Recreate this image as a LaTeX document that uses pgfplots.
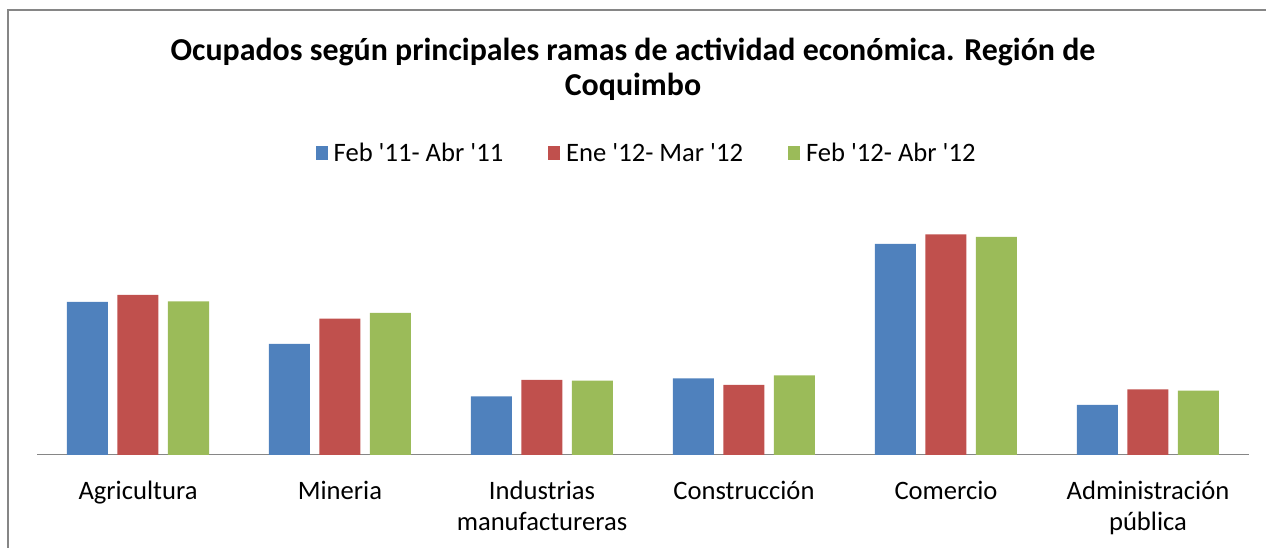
\documentclass[border=0pt]{standalone}
\usepackage{pgfplots}
\pgfplotsset{compat=1.18}
\usepackage{fontspec}
\setmainfont{Carlito}
\definecolor{cblue}{RGB}{79,129,189}
\definecolor{cred}{RGB}{192,80,77}
\definecolor{cgreen}{RGB}{155,187,89}
\definecolor{frame}{RGB}{134,134,134}
\newcommand{\q}{\textquotesingle}
\begin{document}
\begin{tikzpicture}[x=1pt,y=1pt]
\path[use as bounding box] (0pt,0pt) rectangle (1266pt,548pt);
\draw[frame, line width=1.3pt] (8pt,0pt) -- (8pt,538pt) -- (1266pt,538pt);
\node[font=\bfseries\fontsize{31.9}{35}\selectfont, align=center] at (633pt,479pt) {Ocupados según principales ramas de actividad económica. Región de\\Coquimbo};
\begin{axis}[
  at={(37pt,93pt)}, anchor=south west, scale only axis,
  width=1212pt, height=300pt,
  xmin=-0.5, xmax=5.5, ymin=0, ymax=300,
  enlarge x limits=false, enlarge y limits=false,
  ybar=9.5pt, bar width=41pt,
  axis y line=none, axis x line*=bottom,
  x axis line style={draw=frame, line width=1pt, -},
  ytick=\empty,
  xtick={0,1,2,3,4,5},
  xticklabels={\strut Agricultura, \strut Mineria, {\strut Industrias\\manufactureras}, \strut Construcción, \strut Comercio, {\strut Administración\\pública}},
  major tick length=0pt,
  xticklabel style={font=\fontsize{26.6}{31}\selectfont, align=center, yshift=-19pt},
  legend columns=3,
  legend style={at={(0.503,1.0067)}, anchor=center, draw=none, fill=none,
    font=\fontsize{26.6}{30}\selectfont,
    /tikz/every odd column/.append style={column sep=4pt},
    /tikz/every even column/.append style={column sep=43pt}},
  legend image code/.code={\fill[#1] (0pt,-7pt) rectangle (12pt,7pt);},
]
\addplot[fill=cblue, draw=none] coordinates {(0,153) (1,111) (2,58.7) (3,76.7) (4,211) (5,50)};
\addplot[fill=cred, draw=none] coordinates {(0,160) (1,136.3) (2,75) (3,70) (4,220.7) (5,65.7)};
\addplot[fill=cgreen, draw=none] coordinates {(0,153.7) (1,142) (2,74.3) (3,79.7) (4,218) (5,64.3)};
\legend{Feb \q11- Abr \q11, Ene \q12- Mar \q12, Feb \q12- Abr \q12}
\end{axis}
\end{tikzpicture}
\end{document}
